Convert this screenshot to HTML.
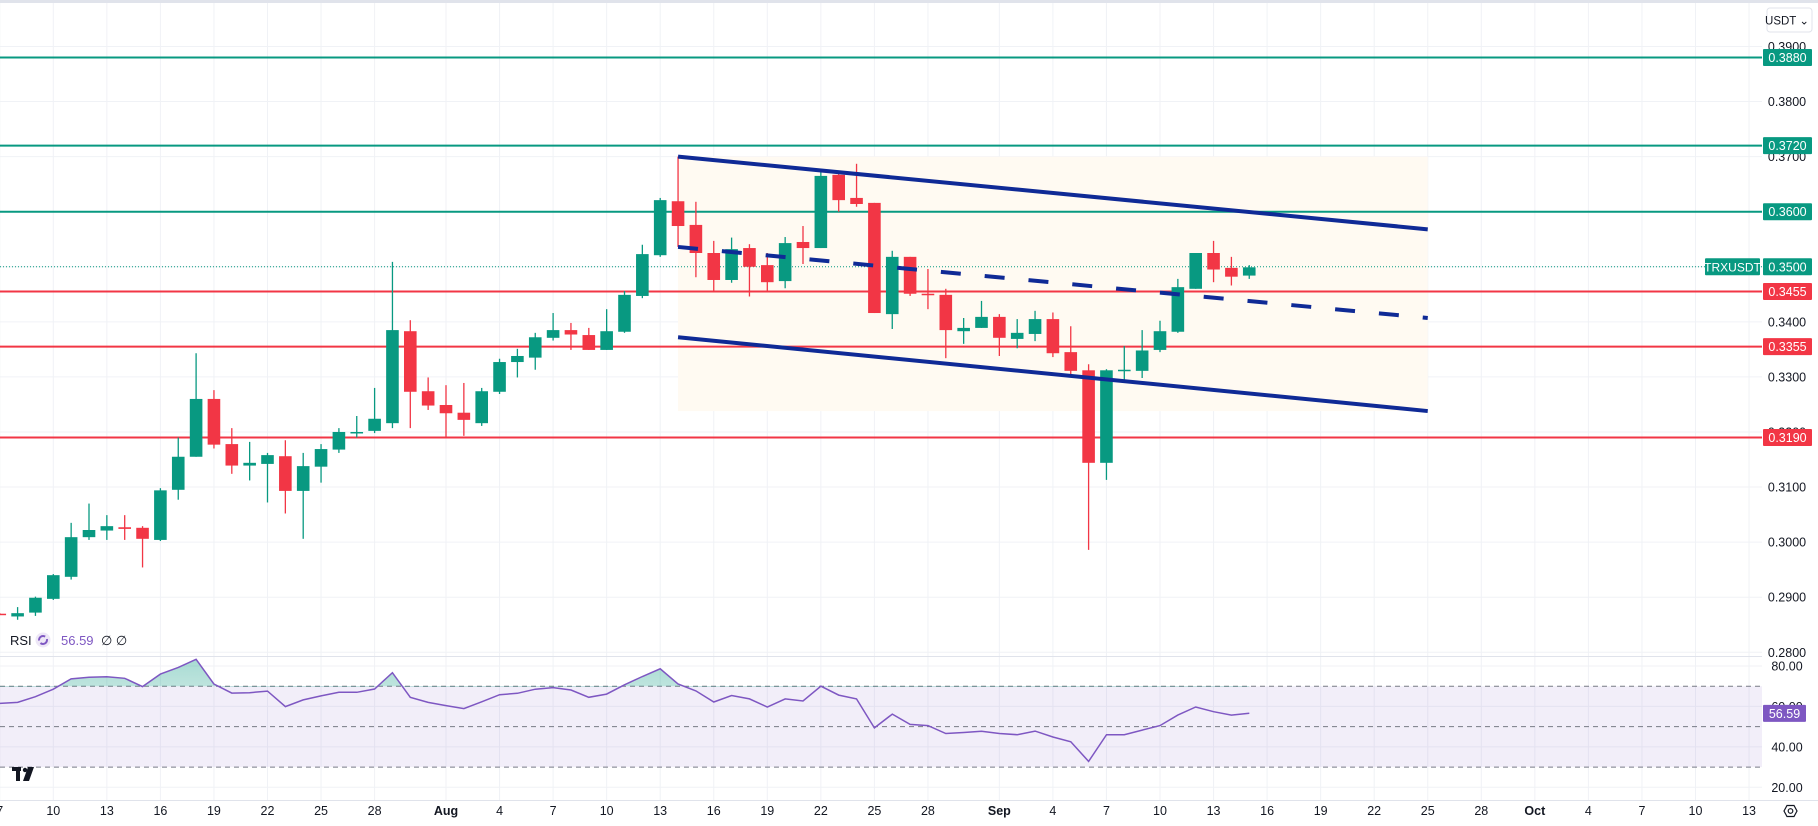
<!DOCTYPE html>
<html><head><meta charset="utf-8"><title>TRXUSDT chart</title>
<style>
html,body{margin:0;padding:0;background:#fff;overflow:hidden}
svg{display:block;font-family:"Liberation Sans",sans-serif}
</style></head>
<body>
<svg id="chart" width="1818" height="826" viewBox="0 0 1818 826" xmlns="http://www.w3.org/2000/svg">
<defs>
<linearGradient id="obGrad" x1="0" y1="0" x2="0" y2="1">
<stop offset="0" stop-color="#089981" stop-opacity="0.35"/>
<stop offset="1" stop-color="#089981" stop-opacity="0.03"/>
</linearGradient>
<clipPath id="obClip"><rect x="0" y="640" width="1762" height="47"/></clipPath>
</defs>
<rect x="0" y="0" width="1818" height="826" fill="#fff"/>
<rect x="0" y="0" width="1818" height="3" fill="#e0e3eb"/>
<g id="grid"></g>
<g id="channelFill"></g>
<g id="levels"></g>
<g id="candles"></g>
<g id="channel"></g>
<g id="rsi"></g>
<g id="axes"></g>
</svg>
<script>
// ---- data ----
const dates = ['07-07','07-08','07-09','07-10','07-11','07-12','07-13','07-14','07-15','07-16','07-17','07-18','07-19','07-20','07-21','07-22','07-23','07-24','07-25','07-26','07-27','07-28','07-29','07-30','07-31','08-01','08-02','08-03','08-04','08-05','08-06','08-07','08-08','08-09','08-10','08-11','08-12','08-13','08-14','08-15','08-16','08-17','08-18','08-19','08-20','08-21','08-22','08-23','08-24','08-25','08-26','08-27','08-28','08-29','08-30','08-31','09-01','09-02','09-03','09-04','09-05','09-06','09-07','09-08','09-09','09-10','09-11','09-12','09-13','09-14','09-15'];
const opens = [.2870,.2865,.2872,.2897,.2937,.3009,.3021,.3027,.3026,.3004,.3095,.3155,.3260,.3178,.3139,.3142,.3156,.3093,.3137,.3168,.3198,.3202,.3216,.3383,.3274,.3249,.3235,.3216,.3273,.3327,.3335,.3371,.3385,.3376,.3349,.3382,.3447,.3521,.3619,.3576,.3525,.3476,.3534,.3503,.3474,.3545,.3534,.3667,.3625,.3616,.3414,.3518,.3451,.3449,.3383,.3389,.3409,.3369,.3378,.3405,.3345,.3312,.3144,.3312,.3311,.3349,.3382,.3460,.3525,.3498,.3484];
const highs = [.2871,.2882,.2901,.2942,.3035,.3070,.3049,.3049,.3029,.3098,.3190,.3343,.3276,.3207,.3182,.3162,.3185,.3162,.3178,.3207,.3229,.3280,.3509,.3403,.3299,.3285,.3289,.3280,.3333,.3351,.3380,.3416,.3398,.3389,.3423,.3456,.3540,.3625,.3700,.3618,.3547,.3553,.3541,.3525,.3554,.3574,.3673,.3670,.3687,.3616,.3529,.3518,.3496,.3460,.3407,.3438,.3414,.3405,.3420,.3417,.3392,.3323,.3314,.3356,.3385,.3402,.3478,.3525,.3547,.3518,.3503];
const lows = [.2868,.2859,.2866,.2895,.2932,.3004,.3004,.3004,.2954,.3002,.3077,.3155,.3170,.3124,.3112,.3072,.3052,.3006,.3108,.3162,.3190,.3198,.3207,.3207,.3240,.3189,.3193,.3211,.3269,.3299,.3313,.3366,.3349,.3349,.3349,.3380,.3443,.3518,.3536,.3481,.3454,.3471,.3446,.3455,.3461,.3505,.3534,.3600,.3609,.3416,.3387,.3447,.3423,.3334,.3360,.3389,.3338,.3352,.3365,.3336,.3303,.2986,.3113,.3294,.3298,.3345,.3380,.3460,.3472,.3466,.3478];
const closes = [.2869,.2871,.2899,.2940,.3009,.3022,.3029,.3024,.3006,.3094,.3155,.3260,.3177,.3139,.3144,.3158,.3093,.3138,.3169,.3200,.3200,.3224,.3385,.3273,.3248,.3234,.3222,.3274,.3327,.3338,.3372,.3385,.3377,.3349,.3383,.3449,.3523,.3621,.3574,.3525,.3476,.3532,.3500,.3472,.3543,.3534,.3665,.3621,.3614,.3416,.3518,.3451,.3449,.3385,.3389,.3409,.3371,.3380,.3405,.3343,.3311,.3144,.3312,.3313,.3348,.3383,.3463,.3525,.3495,.3482,.3499];
const rsiValues = [61.5,62.0,64.8,68.5,73.6,74.4,74.7,73.9,69.8,76.0,79.3,83.3,71.1,66.6,66.8,67.6,59.9,63.2,65.2,67.0,67.0,68.6,76.7,64.5,62.0,60.4,58.9,62.3,65.8,66.5,68.5,69.3,68.1,64.5,66.1,70.7,74.8,78.6,71.1,67.7,62.2,65.4,63.7,59.7,63.7,62.7,70.0,65.6,63.7,49.4,56.2,51.1,50.5,46.6,47.1,47.7,46.6,46.0,47.8,44.9,42.5,32.8,46.0,46.0,48.3,50.5,55.7,59.7,57.4,55.7,56.59];
const supportLevels = [0.3455,0.3355,0.3190];
const resistanceLevels = [0.3880,0.3720,0.3600];
const lastPrice = 0.3500;
const lastRsi = 56.59;
const priceTicks = [0.39,0.38,0.37,0.36,0.35,0.34,0.33,0.32,0.31,0.30,0.29,0.28];
const rsiTicks = [80,60,40,20];
const rsiBands = [70,50,30];
const tickDates = ['07-07','07-10','07-13','07-16','07-19','07-22','07-25','07-28','08-01','08-04','08-07','08-10','08-13','08-16','08-19','08-22','08-25','08-28','09-01','09-04','09-07','09-10','09-13','09-16','09-19','09-22','09-25','09-28','10-01','10-04','10-07','10-10','10-13'];
const tickLabels = ['7','10','13','16','19','22','25','28','Aug','4','7','10','13','16','19','22','25','28','Sep','4','7','10','13','16','19','22','25','28','Oct','4','7','10','13'];
const channelUpper = [['08-14',0.3700],['09-25',0.3568]];
const channelLower = [['08-14',0.3372],['09-25',0.3238]];
const channelMid = [['08-14',0.3536],['09-25',0.3407]];

// ---- scales ----
const NS='http://www.w3.org/2000/svg';
function dayOff(s){const [m,d]=s.split('-').map(Number);return (Date.UTC(2024,m-1,d)-Date.UTC(2024,7,1))/86400000;}
function xOf(s){return 446+dayOff(s)*17.85;}
function yOf(p){return 211.7+(0.36-p)*5507;}
function yR(v){return 787.3-(v-20)*2.022;}
function mk(tag,attrs,parent){const e=document.createElementNS(NS,tag);for(const k in attrs)e.setAttribute(k,attrs[k]);parent.appendChild(e);return e;}
const G=id=>document.getElementById(id);
const GREEN='#089981',RED='#f23645',PLOT_R=1762;

// grid
const grid=G('grid');
tickDates.forEach((d,i)=>{const x=xOf(d);const l=mk('line',{x1:x,x2:x,y1:3,y2:800,stroke:'#f0f2f6','stroke-width':1},grid);

});
priceTicks.forEach(p=>{const y=yOf(p);const l=mk('line',{x1:0,x2:PLOT_R,y1:y,y2:y,stroke:'#f0f2f6','stroke-width':1},grid);

});
[80,60,40,20].forEach(v=>{const y=yR(v);const l=mk('line',{x1:0,x2:PLOT_R,y1:y,y2:y,stroke:'#f0f2f6','stroke-width':1},grid);

});
const sep=mk('line',{x1:0,x2:1818,y1:656.5,y2:656.5,stroke:'#e0e3eb','stroke-width':1},grid);


const bot=mk('line',{x1:0,x2:1818,y1:800.5,y2:800.5,stroke:'#e0e3eb','stroke-width':1},grid);



// channel fill
const cf=G('channelFill');
{const x1=xOf(channelUpper[0][0]),x2=xOf(channelUpper[1][0]);
const r=mk('rect',{x:x1,y:yOf(channelUpper[0][1]),width:x2-x1,height:yOf(channelLower[1][1])-yOf(channelUpper[0][1]),fill:'#fffaf2'},cf);

}

// levels
const lv=G('levels');
resistanceLevels.forEach(p=>{const y=yOf(p);const l=mk('line',{x1:0,x2:PLOT_R,y1:y,y2:y,stroke:GREEN,'stroke-width':2},lv);

});
supportLevels.forEach(p=>{const y=yOf(p);const l=mk('line',{x1:0,x2:PLOT_R,y1:y,y2:y,stroke:RED,'stroke-width':2},lv);

});
{const y=yOf(lastPrice);const l=mk('line',{x1:0,x2:PLOT_R,y1:y,y2:y,stroke:GREEN,'stroke-width':1,'stroke-dasharray':'1 2'},lv);

}

// candles
const cg=G('candles');
dates.forEach((d,i)=>{const x=xOf(d);const o=opens[i],c=closes[i],h=highs[i],lo=lows[i];
const col=c>=o?GREEN:RED;const g=mk('g',{},cg);


mk('line',{x1:x,x2:x,y1:yOf(h),y2:yOf(lo),stroke:col,'stroke-width':1.3},g);
const yt=yOf(Math.max(o,c)),yb=yOf(Math.min(o,c));
mk('rect',{x:x-6.3,y:yt,width:12.6,height:Math.max(1.5,yb-yt),fill:col},g);});

// channel lines
const ch=G('channel');
[[channelUpper,'channel-upper-line',false],[channelLower,'channel-lower-line',false],[channelMid,'channel-mid-line',true]].forEach(([pts,nm,dash])=>{
const a={x1:xOf(pts[0][0]),y1:yOf(pts[0][1]),x2:xOf(pts[1][0]),y2:yOf(pts[1][1]),stroke:'#0f2a96','stroke-width':4};
if(dash)a['stroke-dasharray']='20 24';
const l=mk('line',a,ch);

});

// RSI
const rg=G('rsi');
{const yt=yR(70),yb=yR(30);const b=mk('rect',{x:0,y:yt,width:PLOT_R,height:yb-yt,fill:'#7e57c2','fill-opacity':0.1},rg);

}
rsiBands.forEach(v=>{const y=yR(v);const l=mk('line',{x1:0,x2:PLOT_R,y1:y,y2:y,stroke:'#787b86','stroke-width':1,'stroke-dasharray':'5 4'},rg);

});
const pts=dates.map((d,i)=>xOf(d).toFixed(1)+','+yR(rsiValues[i]).toFixed(1));
{const y70=yR(70);const area=mk('polygon',{points:xOf(dates[0])+','+y70+' '+pts.join(' ')+' '+xOf(dates[dates.length-1])+','+y70,fill:'url(#obGrad)','clip-path':'url(#obClip)'},rg);

}
{const pl=mk('polyline',{points:pts.join(' '),fill:'none',stroke:'#7e57c2','stroke-width':1.5},rg);

}

// axes
const ax=G('axes');
const axBg=mk('rect',{x:PLOT_R,y:3,width:56,height:797,fill:'#fff'},ax);


priceTicks.forEach((p,i)=>{const t=mk('text',{x:1787,y:yOf(p)+4.5,'text-anchor':'middle','font-size':12.5,fill:'#131722'},ax);t.textContent=p.toFixed(4);

});
rsiTicks.forEach(v=>{const t=mk('text',{x:1787,y:yR(v)+4.5,'text-anchor':'middle','font-size':12.5,fill:'#131722'},ax);t.textContent=v.toFixed(2);

});
function tag(y,txt,col,nm){const g=mk('g',{},ax);


mk('rect',{x:1763,y:y-8.5,width:49,height:17,fill:col,rx:1},g);
const t=mk('text',{x:1787.5,y:y+4.5,'text-anchor':'middle','font-size':12.5,fill:'#fff'},g);t.textContent=txt;}
resistanceLevels.forEach(p=>tag(yOf(p),p.toFixed(4),GREEN,'resistance-price-tag'));
supportLevels.forEach(p=>tag(yOf(p),p.toFixed(4),RED,'support-price-tag'));
tag(yOf(lastPrice),lastPrice.toFixed(4),GREEN,'last-price-tag');
{const y=yOf(lastPrice);const g=mk('g',{},ax);


mk('rect',{x:1705,y:y-8.5,width:55,height:17,fill:GREEN,rx:1},g);
const t=mk('text',{x:1732.5,y:y+4.5,'text-anchor':'middle','font-size':12,fill:'#fff'},g);t.textContent='TRXUSDT';}
{const y=yR(lastRsi);const g=mk('g',{},ax);


mk('rect',{x:1763,y:y-8.5,width:43,height:17,fill:'#7e57c2',rx:1},g);
const t=mk('text',{x:1784.5,y:y+4.5,'text-anchor':'middle','font-size':12.5,fill:'#fff'},g);t.textContent=lastRsi.toFixed(2);}
// time labels
tickDates.forEach((d,i)=>{const lbl=tickLabels[i];const t=mk('text',{x:xOf(d),y:815,'text-anchor':'middle','font-size':12.5,fill:'#131722','font-weight':isNaN(+lbl)?'bold':'normal'},ax);t.textContent=lbl;

});
// USDT button
{const g=mk('g',{},ax);


mk('rect',{x:1767,y:8,width:45,height:24,fill:'#fff',stroke:'#e0e3eb',rx:3},g);
const t=mk('text',{x:1787,y:24.5,'text-anchor':'middle','font-size':11.5,fill:'#131722'},g);t.textContent='USDT ⌄';}
// settings icon
{const g=mk('g',{},ax);


mk('polygon',{points:'1784,811 1787,805.5 1794,805.5 1797,811 1794,816.5 1787,816.5',fill:'none',stroke:'#131722','stroke-width':1.2},g);
mk('circle',{cx:1790.5,cy:811,r:2.3,fill:'none',stroke:'#131722','stroke-width':1.2},g);}
// RSI legend
{const g=mk('g',{},ax);


const t1=mk('text',{x:10,y:645,'font-size':13,fill:'#131722'},g);t1.textContent='RSI';
mk('circle',{cx:43,cy:640,r:7.5,fill:'#ede7f6'},g);
mk('circle',{cx:43,cy:640,r:4,fill:'none',stroke:'#7e57c2','stroke-width':2,'stroke-dasharray':'9 3'},g);
const t2=mk('text',{x:61,y:645,'font-size':13,fill:'#7e57c2'},g);t2.textContent=lastRsi.toFixed(2);
const t3=mk('text',{x:101,y:645,'font-size':13,fill:'#131722'},g);t3.textContent='∅ ∅';}
// TV logo
{const g=mk('g',{},ax);


mk('rect',{x:12,y:767,width:9,height:4,fill:'#131722'},g);
mk('rect',{x:16,y:767,width:4,height:14,fill:'#131722'},g);
mk('circle',{cx:25,cy:770,r:2.2,fill:'#131722'},g);
mk('polygon',{points:'28,767 34,767 29,781 23,781',fill:'#131722'},g);}
</script>
</body></html>
